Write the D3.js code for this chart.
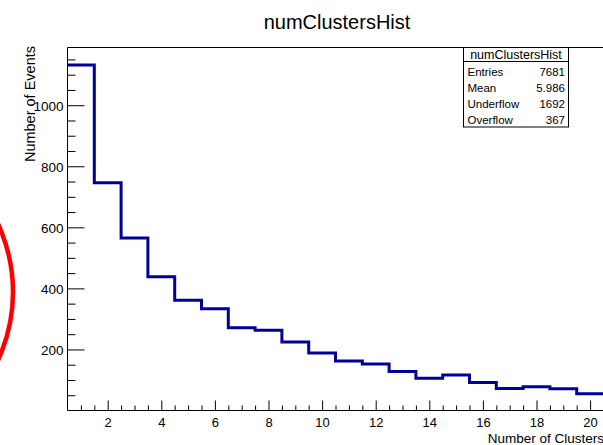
<!DOCTYPE html>
<html>
<head>
<meta charset="utf-8">
<script src="https://cdn.jsdelivr.net/npm/d3@7"></script>
<style>
  html, body { margin: 0; padding: 0; background: #fff; }
  svg { display: block; }
  text { font-family: "Liberation Sans", Arial, Helvetica, sans-serif; fill: #000; }
</style>
</head>
<body>
<svg id="chart" width="603" height="445"></svg>
<script>
// Histogram contents: number of clusters per event, unit-width bins centred on 1..20
const binCenters = [1, 2, 3, 4, 5, 6, 7, 8, 9, 10, 11, 12, 13, 14, 15, 16, 17, 18, 19, 20];
const eventCounts = [1132, 746, 565, 438, 361, 333, 271, 263, 224, 188,
                     162, 152, 128, 106, 116, 92, 72, 78, 71, 55];

// Axis ticks
const xMajorTicks = [2, 4, 6, 8, 10, 12, 14, 16, 18, 20];
const xMinorTicks = d3.range(1, 20.51, 0.5);
const yMajorTicks = [200, 400, 600, 800, 1000];
const yMinorTicks = d3.range(50, 1151, 50);

// Statistics box
const statsTitle = "numClustersHist";
const statLabels = ["Entries", "Mean", "Underflow", "Overflow"];
const statValues = ["7681", "5.986", "1692", "367"];

const svg = d3.select("#chart");
const W = 603, H = 445;
const frame = { left: 67.5, right: 603.5, top: 47.5, bottom: 410.5 };

const x = d3.scaleLinear().domain([0.5, 20.5]).range([frame.left, frame.right]);
const y = d3.scaleLinear().domain([0, 1189]).range([frame.bottom, frame.top]);

// Title
svg.append("text")
  .attr("x", 337).attr("y", 28.5)
  .attr("text-anchor", "middle")
  .style("font-size", "20px")
  .text("numClustersHist");

// Frame (top edge; left/bottom come from the axes)
svg.append("line")
  .attr("x1", frame.left).attr("x2", W + 2)
  .attr("y1", frame.top).attr("y2", frame.top)
  .attr("stroke", "#000").attr("stroke-width", 1);

// Y axis: ticks point into the frame
const yAxis = d3.axisRight(y).tickValues(yMajorTicks).tickSize(17).tickFormat(d3.format("d"));
const yAxisG = svg.append("g").attr("transform", `translate(${frame.left},0)`).call(yAxis);
yAxisG.select(".domain").remove();
yAxisG.selectAll("text")
  .attr("x", -4).attr("dy", "0.36em")
  .attr("text-anchor", "end")
  .style("font-size", "13.5px");
const yMinorG = svg.append("g").attr("transform", `translate(${frame.left},0)`)
  .call(d3.axisRight(y).tickValues(yMinorTicks.filter(v => !yMajorTicks.includes(v))).tickSize(8).tickFormat(""));
yMinorG.select(".domain").remove();
svg.append("line")
  .attr("x1", frame.left).attr("x2", frame.left)
  .attr("y1", frame.top).attr("y2", frame.bottom)
  .attr("stroke", "#000");

// X axis: ticks point up into the frame
const xAxis = d3.axisTop(x).tickValues(xMajorTicks).tickSize(10).tickFormat(d3.format("d"));
const xAxisG = svg.append("g").attr("transform", `translate(0,${frame.bottom})`).call(xAxis);
xAxisG.select(".domain").remove();
xAxisG.selectAll("text")
  .attr("y", 16.5).attr("dy", 0)
  .style("font-size", "13px");
const xMinorG = svg.append("g").attr("transform", `translate(0,${frame.bottom})`)
  .call(d3.axisTop(x).tickValues(xMinorTicks.filter(v => !xMajorTicks.includes(v))).tickSize(5).tickFormat(""));
xMinorG.select(".domain").remove();
svg.append("line")
  .attr("x1", frame.left).attr("x2", W + 2)
  .attr("y1", frame.bottom).attr("y2", frame.bottom)
  .attr("stroke", "#000");

svg.selectAll(".tick line").attr("stroke", "#000").attr("stroke-width", 1);

// Histogram outline as a step line
const stepPoints = [];
binCenters.forEach((c, i) => {
  stepPoints.push([c - 0.5, eventCounts[i]]);
  stepPoints.push([c + 0.5, eventCounts[i]]);
});
svg.append("path")
  .datum(stepPoints)
  .attr("fill", "none")
  .attr("stroke", "#000099")
  .attr("stroke-width", 3)
  .attr("stroke-linejoin", "miter")
  .attr("d", d3.line().x(d => x(d[0])).y(d => y(d[1])));

// Axis titles
svg.append("text")
  .attr("transform", "translate(35,46) rotate(-90)")
  .attr("text-anchor", "end")
  .style("font-size", "14.5px")
  .text("Number of Events");
svg.append("text")
  .attr("x", 604).attr("y", 443)
  .attr("text-anchor", "end")
  .style("font-size", "13.5px")
  .text("Number of Clusters");

// Statistics box
const box = { x: 463.5, y: 47.5, w: 105, h: 79.5 };
const stats = svg.append("g");
stats.append("rect")
  .attr("x", box.x).attr("y", box.y).attr("width", box.w).attr("height", box.h)
  .attr("fill", "#fff").attr("stroke", "#000");
stats.append("line")
  .attr("x1", box.x).attr("x2", box.x + box.w)
  .attr("y1", 61.5).attr("y2", 61.5)
  .attr("stroke", "#000");
stats.append("text")
  .attr("x", box.x + box.w / 2).attr("y", 59)
  .attr("text-anchor", "middle")
  .style("font-size", "12.5px")
  .text(statsTitle);
statLabels.forEach((lab, i) => {
  const by = 76 + i * 16.1;
  stats.append("text").attr("x", box.x + 4).attr("y", by)
    .style("font-size", "11.5px").text(lab);
  stats.append("text").attr("x", box.x + box.w - 3.5).attr("y", by)
    .attr("text-anchor", "end")
    .style("font-size", "11.5px").text(statValues[i]);
});

// Red circle marker at the left edge
svg.append("circle")
  .attr("cx", -149).attr("cy", 292).attr("r", 162)
  .attr("fill", "none")
  .attr("stroke", "#ff0000")
  .attr("stroke-width", 4.5);
</script>
</body>
</html>
